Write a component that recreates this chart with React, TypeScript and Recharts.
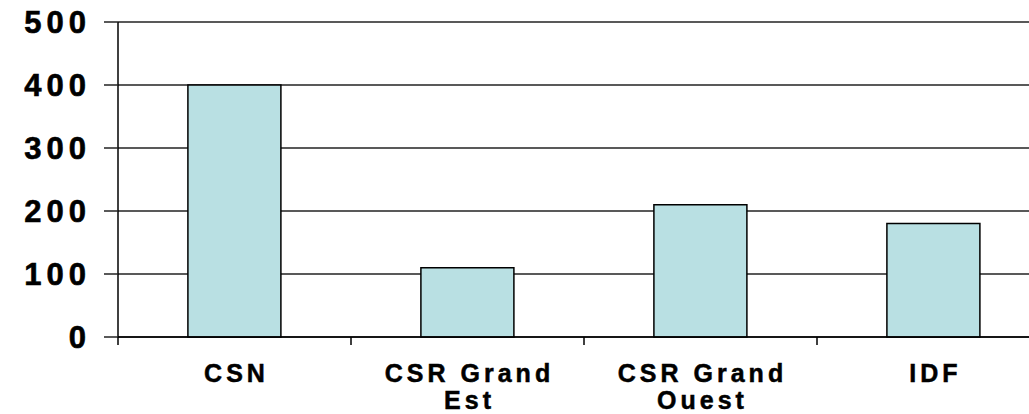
import { Bar, BarChart, CartesianGrid, XAxis, YAxis } from "recharts";

const categories = ["CSN", "CSR Grand Est", "CSR Grand Ouest", "IDF"];
const valeurs = [400, 110, 210, 180];
const yTicks = [0, 100, 200, 300, 400, 500];

const dados = categories.map((nom, i) => ({ nom, valeur: valeurs[i] }));

const police = "'Liberation Sans', Arial, sans-serif";

// étiquettes de l'axe X, coupées sur deux lignes comme dans Excel,
// avec le petit trait entre les catégories
function TickCategorie({ x, y, payload, index }: any) {
  const txt: string = payload.value;
  const cut = txt.length > 10 ? txt.lastIndexOf(" ") : -1;
  const lignes = cut > 0 ? [txt.slice(0, cut), txt.slice(cut + 1)] : [txt];
  const demi = payload.offset ?? 0;
  const bord = x - demi;
  return (
    <g>
      <line x1={bord} x2={bord} y1={y} y2={y + 8} stroke="#000" strokeWidth={1.5} />
      {index === categories.length - 1 && (
        <line x1={x + demi} x2={x + demi} y1={y} y2={y + 8} stroke="#000" strokeWidth={1.5} />
      )}
      <text
        x={x + 2}
        y={y}
        textAnchor="middle"
        fontFamily={police}
        fontWeight="bold"
        fontSize={25}
        letterSpacing={4}
        fill="#000"
        stroke="#000"
        strokeWidth={0.5}
      >
        {lignes.map((l, i) => (
          <tspan key={i} x={x + 2} y={y + 45 + i * 27}>
            {l}
          </tspan>
        ))}
      </text>
    </g>
  );
}

function TickValeur({ x, y, payload }: any) {
  return (
    <text
      x={x + 5}
      y={y}
      dy={11}
      textAnchor="end"
      fontFamily={police}
      fontWeight="bold"
      fontSize={31}
      letterSpacing={5}
      fill="#000"
      stroke="#000"
      strokeWidth={0.6}
    >
      {payload.value}
    </text>
  );
}

export default function App() {
  return (
    <div
      style={{
        position: "absolute",
        left: 0,
        top: 0,
        width: 1029,
        height: 414,
        overflow: "hidden",
        background: "#fff",
      }}
    >
      <BarChart
        width={1060}
        height={414}
        data={dados}
        margin={{ top: 22, right: 10, left: 0, bottom: 0 }}
        barCategoryGap="30%"
      >
        <CartesianGrid vertical={false} horizontal stroke="#222" strokeWidth={1.5} />
        <XAxis
          dataKey="nom"
          height={77}
          tickLine={false}
          tickSize={0}
          tickMargin={0}
          axisLine={{ stroke: "#000", strokeWidth: 1.5 }}
          tick={<TickCategorie />}
          interval={0}
        />
        <YAxis
          width={118}
          domain={[0, 500]}
          ticks={yTicks}
          tickSize={14}
          tickMargin={18}
          tickLine={{ stroke: "#222", strokeWidth: 1.5 }}
          axisLine={{ stroke: "#000", strokeWidth: 1.5 }}
          tick={<TickValeur />}
        />
        <Bar
          dataKey="valeur"
          fill="#b9e0e3"
          stroke="#000"
          strokeWidth={1.5}
          isAnimationActive={false}
        />
      </BarChart>
    </div>
  );
}
